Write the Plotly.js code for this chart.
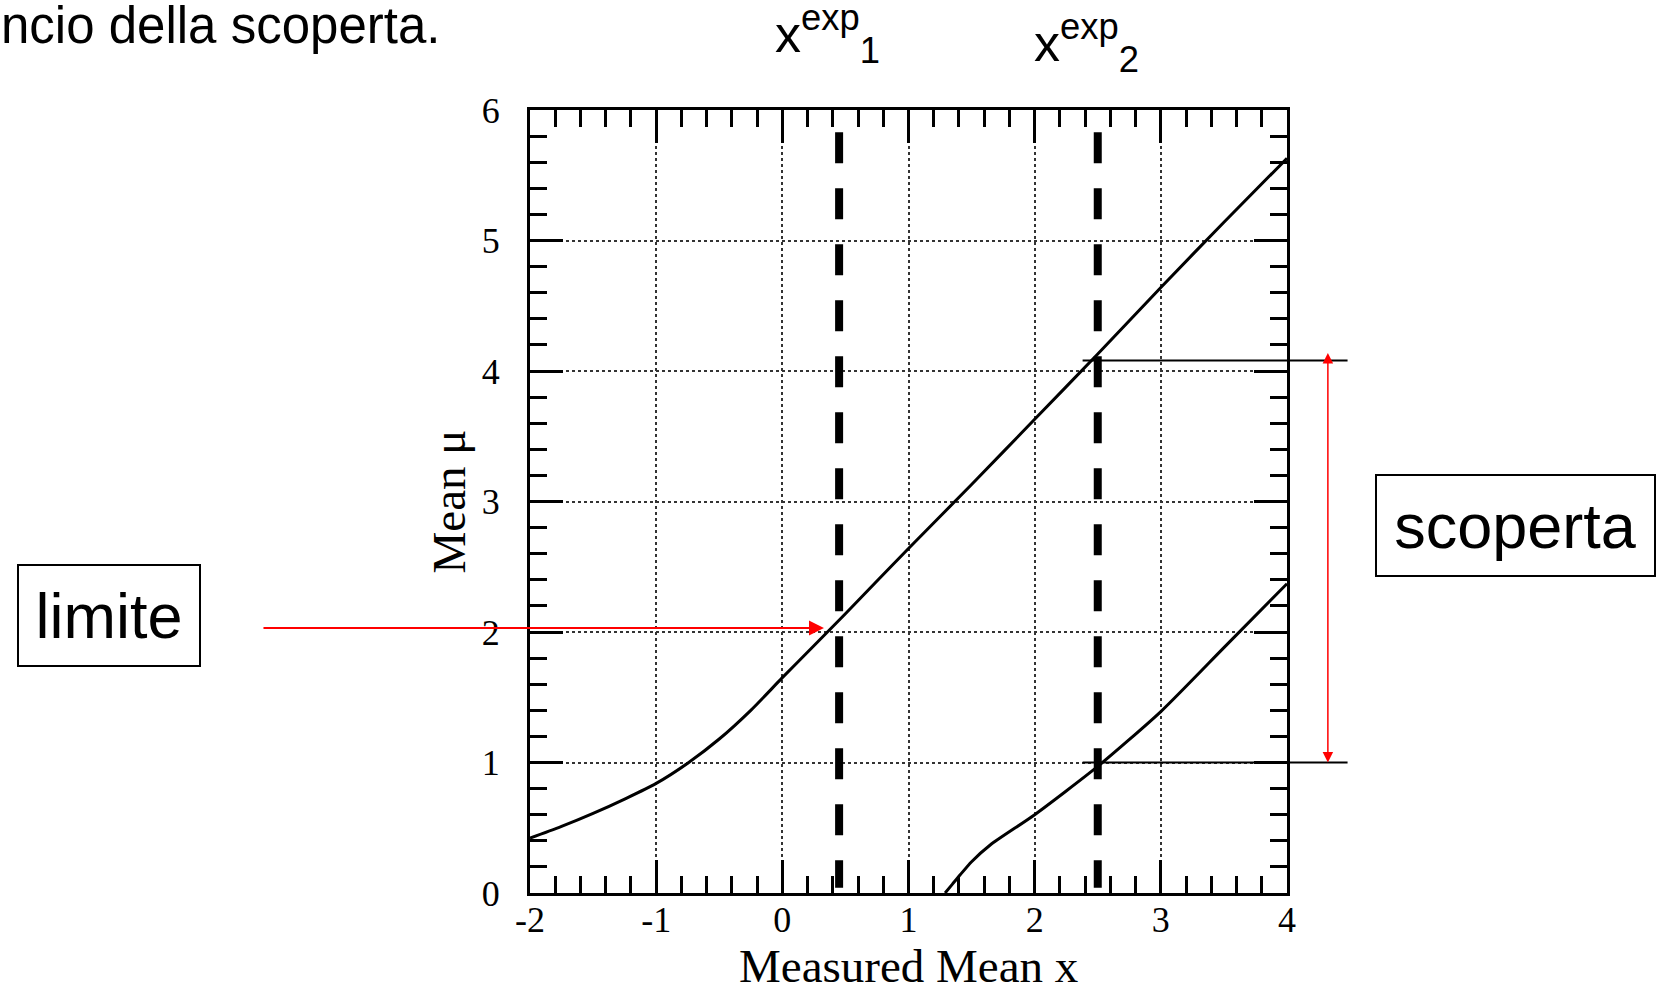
<!DOCTYPE html>
<html>
<head>
<meta charset="utf-8">
<script src="https://cdn.plot.ly/plotly-3.0.1.min.js"></script>
<style>html,body{margin:0;padding:0;background:#fff;}#chart{width:1659px;height:988px;}</style>
</head>
<body>
<div id="chart"></div>
<script>
// Feldman-Cousins confidence belt
const upperX  = [-2, -1.75, -1.5, -1.25, -1, -0.75, -0.5, -0.25, 0, 0.25, 0.5, 1, 1.5, 2, 2.5, 3, 3.5, 4];
const upperMu = [0.42, 0.51, 0.61, 0.72, 0.84, 0.995, 1.18, 1.40, 1.65, 1.895, 2.14, 2.64, 3.13, 3.63, 4.13, 4.64, 5.14, 5.63];
const lowerX  = [1.29, 1.35, 1.41, 1.5, 1.65, 2.0, 2.5, 3.0, 3.5, 4.0];
const lowerMu = [0, 0.07, 0.14, 0.24, 0.37, 0.60, 0.97, 1.39, 1.88, 2.37];

// measured values and read-off levels
const xExp = [0.45, 2.5];
const xExpLabels = ['x<sup>exp</sup><sub>1</sub>', 'x<sup>exp</sup><sub>2</sub>'];
const muLimit = 2.03;
const muLimitAt = 0.33;
const muDiscovery = [1.0, 4.08];

// axis ticks and titles
const xTickVals = [-2, -1, 0, 1, 2, 3, 4];
const xTickText = ['-2', '-1', '0', '1', '2', '3', '4'];
const yTickVals = [0, 1, 2, 3, 4, 5, 6];
const yTickText = ['0', '1', '2', '3', '4', '5', '6'];
const xTitle = 'Measured Mean x';
const yTitle = 'Mean μ';

const xRange = [-2, 4], yRange = [0, 6];
const toPaperX = v => (v - xRange[0]) / (xRange[1] - xRange[0]);

const serif = 'Liberation Serif, Times New Roman, serif';
const sans = 'Liberation Sans, Arial, sans-serif';

const traces = [
  {x: upperX, y: upperMu, mode: 'lines', line: {color: '#000', width: 3, shape: 'spline', smoothing: 0.8}, hoverinfo: 'skip'},
  {x: lowerX, y: lowerMu, mode: 'lines', line: {color: '#000', width: 3, shape: 'spline', smoothing: 0.6}, hoverinfo: 'skip'}
];

const shapes = [];
xExp.forEach(v => shapes.push({type: 'line', xref: 'x', yref: 'y', x0: v, x1: v, y0: 5.83, y1: 0.04,
  line: {color: '#000', width: 8, dash: '31px,25px'}}));
muDiscovery.forEach(m => shapes.push({type: 'line', xref: 'paper', yref: 'y',
  x0: toPaperX(xExp[1] - 0.12), x1: 1.08, y0: m, y1: m, line: {color: '#000', width: 2}}));

const annotations = [];
xExp.forEach((v, i) => annotations.push({xref: 'paper', yref: 'paper', x: toPaperX(v) - 0.0155, y: i === 0 ? 1.097 : 1.086,
  xanchor: 'center', yanchor: 'middle', showarrow: false, text: xExpLabels[i], font: {family: sans, size: 52, color: '#000'}}));
annotations.push({xref: 'paper', yref: 'paper', x: -0.702, y: 1.108, xanchor: 'left', yanchor: 'middle', showarrow: false,
  text: 'ncio della scoperta.', font: {family: sans, size: 51, color: '#000'}});
annotations.push({xref: 'paper', yref: 'paper', x: -0.5555, y: 0.3548, xanchor: 'center', yanchor: 'middle', showarrow: false,
  text: 'limite', font: {family: sans, size: 63, color: '#000'}, bordercolor: '#000', borderwidth: 2, borderpad: 0,
  width: 180, height: 99, bgcolor: '#fff'});
annotations.push({xref: 'paper', yref: 'paper', x: 1.3018, y: 0.4697, xanchor: 'center', yanchor: 'middle', showarrow: false,
  text: 'scoperta', font: {family: sans, size: 63, color: '#000'}, bordercolor: '#000', borderwidth: 2, borderpad: 0,
  width: 277, height: 99, bgcolor: '#fff'});
// x-axis title placed precisely
annotations.push({xref: 'paper', yref: 'paper', x: 0.5, y: -0.093, xanchor: 'center', yanchor: 'middle', showarrow: false,
  text: xTitle, font: {family: serif, size: 47, color: '#000'}});
// red arrow to the upper limit
annotations.push({xref: 'x', yref: 'y', x: muLimitAt, y: muLimit, axref: 'pixel', ayref: 'pixel', ax: -562, ay: 0,
  text: '', showarrow: true, arrowcolor: '#ff0000', arrowwidth: 2, arrowhead: 2, arrowsize: 1.5, standoff: 0});
// red double arrow for the discovery interval
annotations.push({xref: 'paper', yref: 'y', x: 1.054, y: muDiscovery[0], axref: 'pixel', ayref: 'y', ax: 0, ay: muDiscovery[1] + 0.07,
  text: '', showarrow: true, arrowcolor: '#ff0000', arrowwidth: 1.5, arrowhead: 2, startarrowhead: 2, arrowsize: 1.4, startarrowsize: 1.4,
  arrowside: 'end+start', standoff: 0, startstandoff: 0});

const axisCommon = {
  showline: true, linecolor: '#000', linewidth: 3, mirror: 'allticks',
  ticks: 'inside', ticklen: 33, tickwidth: 3, tickcolor: '#000',
  showgrid: true, gridcolor: '#333', gridwidth: 2, griddash: 'dot', zeroline: false,
  tickfont: {family: serif, size: 36, color: '#000'},
  minor: {ticks: 'inside', ticklen: 17, tickwidth: 3, tickcolor: '#000', dtick: 0.2, showgrid: false},
  fixedrange: true
};

const layout = {
  width: 1659, height: 988,
  margin: {l: 530, r: 372, t: 110, b: 95},
  paper_bgcolor: '#fff', plot_bgcolor: '#fff',
  showlegend: false,
  xaxis: Object.assign({}, axisCommon, {range: xRange, tickvals: xTickVals, ticktext: xTickText, ticklabelstandoff: -7}),
  yaxis: Object.assign({}, axisCommon, {range: yRange, tickvals: yTickVals, ticktext: yTickText, ticklabelstandoff: 20,
    title: {text: yTitle, font: {family: serif, size: 47, color: '#000'}, standoff: 2}}),
  shapes: shapes,
  annotations: annotations
};

Plotly.newPlot('chart', traces, layout, {displayModeBar: false, staticPlot: true});
</script>
</body>
</html>
